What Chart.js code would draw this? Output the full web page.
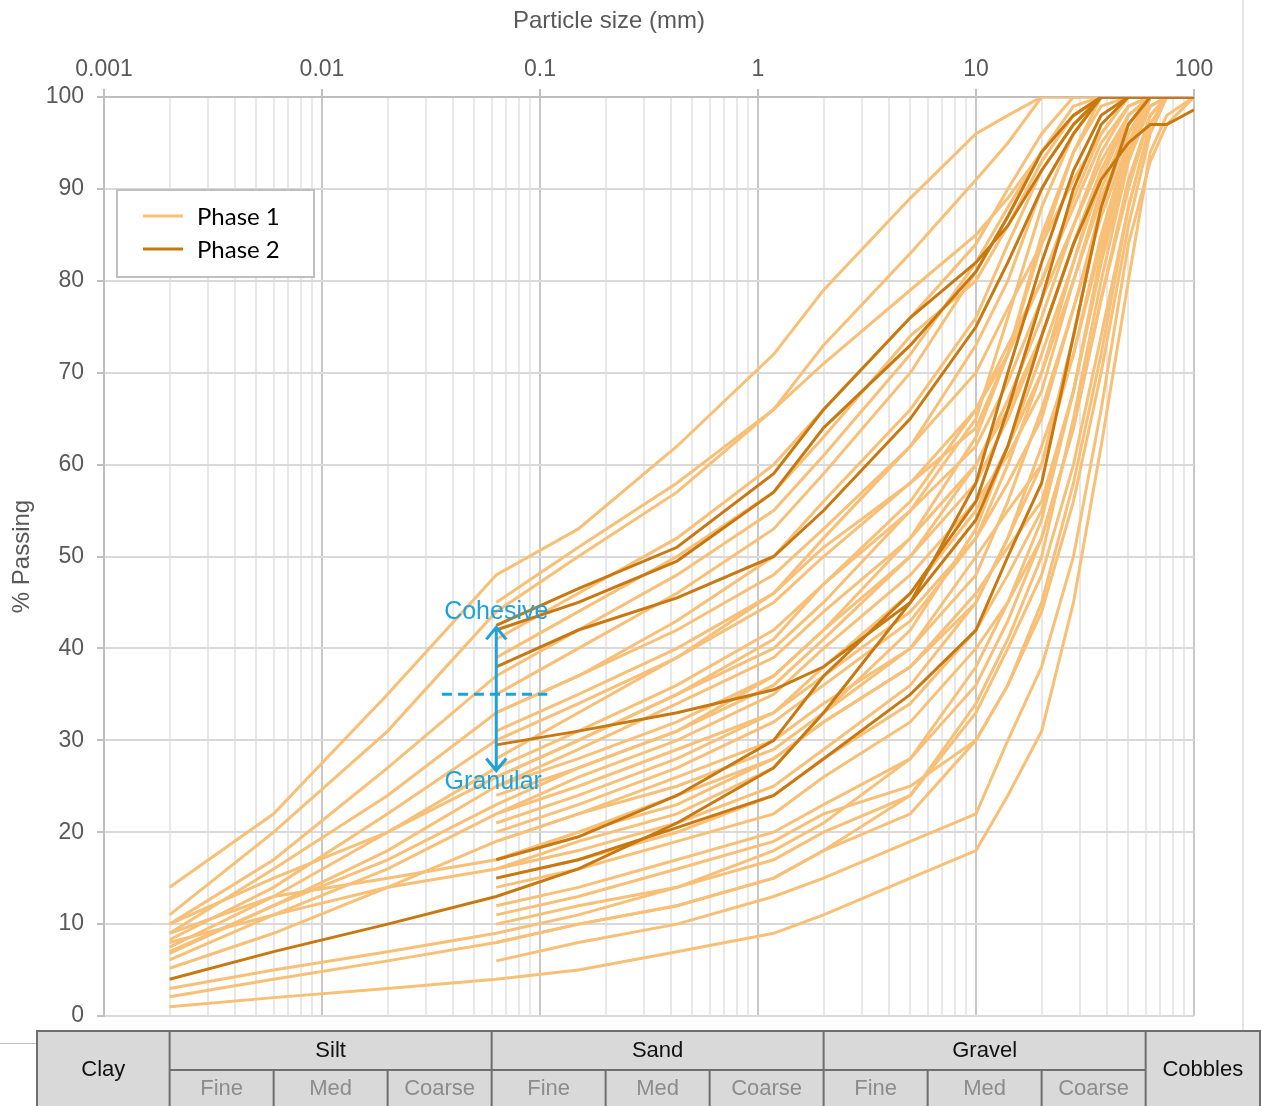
<!DOCTYPE html>
<html>
<head>
<meta charset="utf-8">
<script src="https://cdn.jsdelivr.net/npm/chart.js@4.4.1/dist/chart.umd.min.js"></script>
<style>
  html, body { margin: 0; padding: 0; background: #ffffff; }
  #wrap { position: relative; width: 1261px; height: 1106px; }
</style>
</head>
<body>
<div id="wrap"><canvas id="grading" width="1261" height="1106"></canvas></div>
<script>
// Sieve / hydrometer sizes (mm) shared by every grading curve
const sieveSizes = [0.002, 0.006, 0.02, 0.063, 0.15, 0.425, 1.18, 2, 5, 10, 14, 20, 28, 37.5, 50, 63, 75, 100];

// Decade tick labels of the particle-size axis
const decadeLabels = ['0.001', '0.01', '0.1', '1', '10', '100'];

// Soil classification bands
const soilClasses = ['Clay', 'Silt', 'Sand', 'Gravel', 'Cobbles'];
const classBounds = [0.002, 0.06, 2, 60];
const subClasses = ['Fine', 'Med', 'Coarse'];
const subBounds = [0.002, 0.006, 0.02, 0.06, 0.2, 0.6, 2, 6, 20, 60];

// Phase 1 — % passing at each size (null = not tested)
const p1_01 = [14, 22, 35, 48, 53, 62, 72, 79, 89, 96, 98, 100, 100, 100, 100, 100, 100, 100];
const p1_02 = [11, 20, 31, 44, 50, 57, 66, 73, 83, 91, 95, 100, 100, 100, 100, 100, 100, 100];
const p1_03 = [10, 17, 27, 37, 42, 48, 55, 61, 72, 82, 88, 94, 98, 100, 100, 100, 100, 100];
const p1_04 = [9, 16, 24, 33, 37, 42, 48, 53, 62, 70, 77, 84, 91, 96, 100, 100, 100, 100];
const p1_05 = [8.3, 14, 22, 30, 34, 39, 45, 50, 58, 66, 72, 80, 88, 95, 99, 100, 100, 100];
const p1_06 = [7.5, 13, 20, 27, 31, 36, 42, 47, 55, 62, 69, 78, 86, 93, 98, 100, 100, 100];
const p1_07 = [6.8, 12, 18, 25, 28, 32, 37, 42, 50, 58, 65, 74, 84, 92, 97, 100, 100, 100];
const p1_08 = [6.1, 11, 16, 22, 25, 29, 33, 37, 44, 52, 60, 70, 80, 89, 96, 100, 100, 100];
const p1_09 = [5.2, 9, 14, 19, 22, 25, 29, 33, 40, 48, 56, 66, 77, 87, 95, 100, 100, 100];
const p1_10 = [9, 13, 15, 17, 20, 24, 28, 32, 38, 45, 52, 62, 72, 84, 94, 99, 100, 100];
const p1_11 = [3, 5, 7, 9, 11, 14, 18, 21, 28, 36, 43, 52, 64, 78, 91, 98, 100, 100];
const p1_12 = [2.1, 4, 6, 8, 10, 12, 15, 18, 24, 33, 40, 48, 60, 74, 88, 97, 100, 100];
const p1_13 = [1, 2, 3, 4, 5, 7, 9, 11, 15, 18, 24, 31, 45, 62, 80, 94, 98, 100];
const p1_14 = [10, 15, 20, 26, 30, 35, 40, 45, 55, 65, 76, 88, 96, 100, 100, 100, 100, 100];
const p1_15 = [7, 12, 17, 23, 27, 31, 37, 42, 52, 63, 72, 85, 94, 100, 100, 100, 100, 100];
const p1_16 = [8, 11, 14, 16, 19, 22, 27, 33, 42, 53, 62, 72, 82, 91, 98, 100, 100, 100];
const p1_17 = [null, null, null, 45, 51, 58, 66, 71, 79, 85, 89, 94, 98, 100, 100, 100, 100, 100];
const p1_18 = [null, null, null, 41, 46, 52, 60, 66, 76, 84, 90, 96, 100, 100, 100, 100, 100, 100];
const p1_19 = [null, null, null, 39, 44, 50, 57, 63, 74, 80, 86, 93, 98, 100, 100, 100, 100, 100];
const p1_20 = [null, null, null, 35, 40, 46, 53, 59, 70, 81, 87, 94, 99, 100, 100, 100, 100, 100];
const p1_21 = [null, null, null, 33, 37, 43, 50, 56, 66, 76, 84, 92, 97, 100, 100, 100, 100, 100];
const p1_22 = [null, null, null, 31, 35, 40, 46, 52, 62, 73, 80, 90, 96, 100, 100, 100, 100, 100];
const p1_23 = [null, null, null, 28, 33, 39, 46, 51, 58, 64, 72, 84, 94, 99, 100, 100, 100, 100];
const p1_24 = [null, null, null, 26, 30, 35, 41, 47, 56, 66, 73, 80, 89, 96, 100, 100, 100, 100];
const p1_25 = [null, null, null, 25, 29, 34, 39, 44, 52, 60, 67, 76, 86, 94, 99, 100, 100, 100];
const p1_26 = [null, null, null, 24, 27, 31, 36, 41, 50, 60, 66, 74, 84, 92, 98, 100, 100, 100];
const p1_27 = [null, null, null, 22, 26, 30, 35, 40, 48, 56, 61, 68, 80, 90, 97, 100, 100, 100];
const p1_28 = [null, null, null, 21, 24, 28, 33, 38, 46, 55, 62, 70, 82, 92, 98, 100, 100, 100];
const p1_29 = [null, null, null, 20, 23, 27, 32, 36, 43, 52, 58, 65, 77, 88, 96, 100, 100, 100];
const p1_30 = [null, null, null, 19, 22, 26, 30, 34, 40, 50, 55, 60, 72, 85, 95, 100, 100, 100];
const p1_31 = [null, null, null, 17, 20, 23, 28, 32, 38, 46, 51, 56, 68, 82, 93, 99, 100, 100];
const p1_32 = [null, null, null, 16, 18, 21, 25, 29, 36, 45, 52, 60, 74, 88, 97, 100, 100, 100];
const p1_33 = [null, null, null, 15, 17, 20, 24, 28, 34, 42, 48, 55, 68, 83, 94, 100, 100, 100];
const p1_34 = [null, null, null, 14, 16, 19, 22, 26, 32, 40, 45, 52, 64, 78, 90, 98, 100, 100];
const p1_35 = [null, null, null, 12, 14, 17, 20, 23, 28, 38, 45, 54, 68, 82, 95, 100, 100, 100];
const p1_36 = [null, null, null, 11, 13, 16, 19, 22, 25, 30, 36, 45, 58, 72, 88, 97, 100, 100];
const p1_37 = [null, null, null, 10, 12, 14, 17, 20, 24, 34, 41, 50, 65, 80, 93, 100, 100, 100];
const p1_38 = [null, null, null, 8, 10, 12, 15, 18, 22, 30, 36, 44, 56, 70, 86, 96, 100, 100];
const p1_39 = [null, null, null, 6, 8, 10, 13, 15, 19, 22, 30, 38, 50, 66, 84, 93, 97, 100];

// Phase 2 — % passing at each size
const p2_01 = [4, 7, 10, 13, 16, 21, 27, 33, 45, 58, 70, 82, 92, 98, 100, 100, 100, 100];
const p2_02 = [null, null, null, 15, 17, 20.5, 24, 28, 35, 42, 50, 58, 74, 88, 97, 100, 100, 100];
const p2_03 = [null, null, null, 17, 19.5, 24, 30, 37, 46, 56, 66, 78, 90, 97, 100, 100, 100, 100];
const p2_04 = [null, null, null, 29.5, 31, 33, 35.5, 38, 45, 54, 62, 74, 84, 91, 95, 97, 97, 98.6];
const p2_05 = [null, null, null, 38, 42, 45.5, 50, 55, 65, 75, 82, 90, 96, 100, 100, 100, 100, 100];
const p2_06 = [null, null, null, 42.5, 46.5, 51, 59, 66, 76, 82, 86, 92, 97, 100, 100, 100, 100, 100];
const p2_07 = [null, null, null, 42, 45, 49.5, 57, 64, 73, 81, 87, 94, 98, 100, 100, 100, 100, 100];

const phase1Series = [p1_01, p1_02, p1_03, p1_04, p1_05, p1_06, p1_07, p1_08, p1_09, p1_10,
  p1_11, p1_12, p1_13, p1_14, p1_15, p1_16, p1_17, p1_18, p1_19, p1_20, p1_21, p1_22, p1_23,
  p1_24, p1_25, p1_26, p1_27, p1_28, p1_29, p1_30, p1_31, p1_32, p1_33, p1_34, p1_35, p1_36,
  p1_37, p1_38, p1_39];
const phase2Series = [p2_01, p2_02, p2_03, p2_04, p2_05, p2_06, p2_07];

// Cohesive / granular divide marker
const divideSize = 0.063;
const dividePassing = 35;
const divideSpan = [0.0355, 0.108];
const arrowRange = [42.4, 26.6];
const cohesiveLabelAt = 43.9;
const granularLabelAt = 25.4;

const PHASE1_COLOR = '#f8bf76';
const PHASE2_COLOR = '#c8780f';
const CYAN = '#1ea2dc';
const AXIS_TEXT = '#595959';
const SANS = '"Liberation Sans", Arial, sans-serif';

function toPoints(values) {
  const pts = [];
  values.forEach((v, i) => { if (v !== null) pts.push({ x: sieveSizes[i], y: v }); });
  return pts;
}

const datasets = [];
phase1Series.forEach(s => datasets.push({
  label: 'Phase 1', data: toPoints(s), borderColor: PHASE1_COLOR, borderWidth: 3,
  pointRadius: 0, tension: 0, fill: false, order: 2
}));
phase2Series.forEach(s => datasets.push({
  label: 'Phase 2', data: toPoints(s), borderColor: PHASE2_COLOR, borderWidth: 3,
  pointRadius: 0, tension: 0, fill: false, order: 1
}));

function isDecade(v) {
  const l = Math.log10(v);
  return Math.abs(l - Math.round(l)) < 1e-9;
}

// Axis title, legend, divide marker and soil classification table
const gradingDecor = {
  id: 'gradingDecor',
  afterDatasetsDraw(chart) {
    const { ctx, scales: { x, y } } = chart;
    ctx.save();
    ctx.strokeStyle = CYAN;
    ctx.fillStyle = CYAN;
    ctx.lineWidth = 3;
    const ax = x.getPixelForValue(divideSize);
    const yTop = y.getPixelForValue(arrowRange[0]);
    const yBot = y.getPixelForValue(arrowRange[1]);
    ctx.beginPath();
    ctx.moveTo(ax, yTop + 1); ctx.lineTo(ax, yBot - 1);
    ctx.moveTo(ax - 10, yTop + 13); ctx.lineTo(ax, yTop + 1); ctx.lineTo(ax + 10, yTop + 13);
    ctx.moveTo(ax - 10, yBot - 13); ctx.lineTo(ax, yBot - 1); ctx.lineTo(ax + 10, yBot - 13);
    ctx.stroke();
    ctx.setLineDash([10, 6]);
    const yd = y.getPixelForValue(dividePassing);
    ctx.beginPath();
    ctx.moveTo(x.getPixelForValue(divideSpan[0]), yd);
    ctx.lineTo(x.getPixelForValue(divideSpan[1]), yd);
    ctx.stroke();
    ctx.setLineDash([]);
    ctx.font = '25px ' + SANS;
    ctx.textAlign = 'center';
    ctx.textBaseline = 'middle';
    ctx.fillText('Cohesive', ax, y.getPixelForValue(cohesiveLabelAt));
    ctx.fillText('Granular', ax - 3, y.getPixelForValue(granularLabelAt));
    ctx.restore();
  },
  afterDraw(chart) {
    const { ctx, scales: { x } } = chart;
    ctx.save();

    // axis title above the size labels
    ctx.fillStyle = AXIS_TEXT;
    ctx.font = '24px ' + SANS;
    ctx.textAlign = 'center';
    ctx.textBaseline = 'middle';
    ctx.fillText('Particle size (mm)', 609, 21);

    // legend box
    ctx.fillStyle = '#ffffff';
    ctx.fillRect(117, 190, 197, 87);
    ctx.strokeStyle = '#bfbfbf';
    ctx.lineWidth = 2;
    ctx.strokeRect(117, 190, 197, 87);
    const legendRows = [['Phase 1', PHASE1_COLOR, 216], ['Phase 2', PHASE2_COLOR, 249]];
    ctx.font = '24px Lato, "Open Sans", sans-serif';
    ctx.textAlign = 'left';
    ctx.textBaseline = 'middle';
    legendRows.forEach(([txt, col, ly]) => {
      ctx.strokeStyle = col;
      ctx.lineWidth = 3;
      ctx.beginPath(); ctx.moveTo(143, ly); ctx.lineTo(183, ly); ctx.stroke();
      ctx.fillStyle = '#000000';
      ctx.fillText(txt, 197, ly + 1);
    });

    // page edge rules
    ctx.strokeStyle = '#dcdcdc';
    ctx.lineWidth = 1.5;
    ctx.beginPath(); ctx.moveTo(1243, 0); ctx.lineTo(1243, 1031); ctx.stroke();
    ctx.strokeStyle = '#c0c0c0';
    ctx.lineWidth = 1;
    ctx.beginPath(); ctx.moveTo(0, 1043.5); ctx.lineTo(37, 1043.5); ctx.stroke();

    // classification table
    const tL = 37, tR = 1260, tT = 1031, tM = 1070, tB = 1112;
    ctx.fillStyle = '#d9d9d9';
    ctx.fillRect(tL, tT, tR - tL, tB - tT);
    ctx.strokeStyle = '#6e6e6e';
    ctx.lineWidth = 2;
    ctx.strokeRect(tL, tT, tR - tL, tB - tT);
    const px = v => x.getPixelForValue(v);
    const cLeft = px(classBounds[0]);
    const cRight = px(classBounds[classBounds.length - 1]);
    ctx.beginPath();
    ctx.moveTo(cLeft, tM); ctx.lineTo(cRight, tM);
    classBounds.forEach(b => { ctx.moveTo(px(b), tT); ctx.lineTo(px(b), tB); });
    subBounds.forEach(b => { ctx.moveTo(px(b), tM); ctx.lineTo(px(b), tB); });
    ctx.stroke();

    ctx.textAlign = 'center';
    ctx.textBaseline = 'middle';
    ctx.font = '22px ' + SANS;
    ctx.fillStyle = '#111111';
    ctx.fillText(soilClasses[0], (tL + cLeft) / 2, 1070);
    ctx.fillText(soilClasses[4], (cRight + tR) / 2, 1070);
    for (let i = 0; i < 3; i++) {
      ctx.fillText(soilClasses[i + 1], (px(classBounds[i]) + px(classBounds[i + 1])) / 2, 1051);
    }
    ctx.fillStyle = '#8c8c8c';
    for (let i = 0; i < subBounds.length - 1; i++) {
      ctx.fillText(subClasses[i % 3], (px(subBounds[i]) + px(subBounds[i + 1])) / 2, 1089);
    }
    ctx.restore();
  }
};

const axisFont = { family: SANS, size: 23 };

new Chart(document.getElementById('grading'), {
  type: 'line',
  data: { datasets },
  plugins: [gradingDecor],
  options: {
    responsive: false,
    animation: false,
    devicePixelRatio: 1,
    events: [],
    layout: { padding: { left: 0, top: 0, right: 67, bottom: 90 } },
    plugins: { legend: { display: false }, tooltip: { enabled: false } },
    scales: {
      x: {
        type: 'logarithmic',
        position: 'top',
        min: 0.001,
        max: 100,
        afterBuildTicks(scale) {
          const t = [];
          for (let e = -3; e <= 1; e++) {
            for (let m = 1; m <= 9; m++) t.push({ value: parseFloat((m * Math.pow(10, e)).toPrecision(6)) });
          }
          t.push({ value: 100 });
          scale.ticks = t;
        },
        afterFit(scale) { scale.height = 97; },
        ticks: {
          autoSkip: false,
          maxRotation: 0,
          padding: 6,
          color: AXIS_TEXT,
          font: axisFont,
          callback(v) {
            return isDecade(v) ? decadeLabels[Math.round(Math.log10(v)) + 3] : '';
          }
        },
        grid: {
          color: c => (c.tick && isDecade(c.tick.value)) ? '#c8c8c8' : '#e8e8e8',
          lineWidth: 2,
          tickLength: 8,
          tickColor: c => (c.tick && isDecade(c.tick.value)) ? '#bfbfbf' : 'rgba(0,0,0,0)'
        },
        border: { color: '#bfbfbf', width: 2 },
        title: { display: false }
      },
      y: {
        min: 0,
        max: 100,
        afterFit(scale) { scale.width = 104; },
        ticks: { stepSize: 10, padding: 13, color: AXIS_TEXT, font: axisFont },
        grid: { color: '#d9d9d9', lineWidth: 2, tickLength: 7, tickColor: '#bfbfbf' },
        border: { color: '#bfbfbf', width: 2 },
        title: {
          display: true, text: '% Passing', color: AXIS_TEXT,
          font: { family: SANS, size: 24 },
          padding: { top: 8, bottom: 0 }
        }
      }
    }
  }
});
</script>
</body>
</html>
